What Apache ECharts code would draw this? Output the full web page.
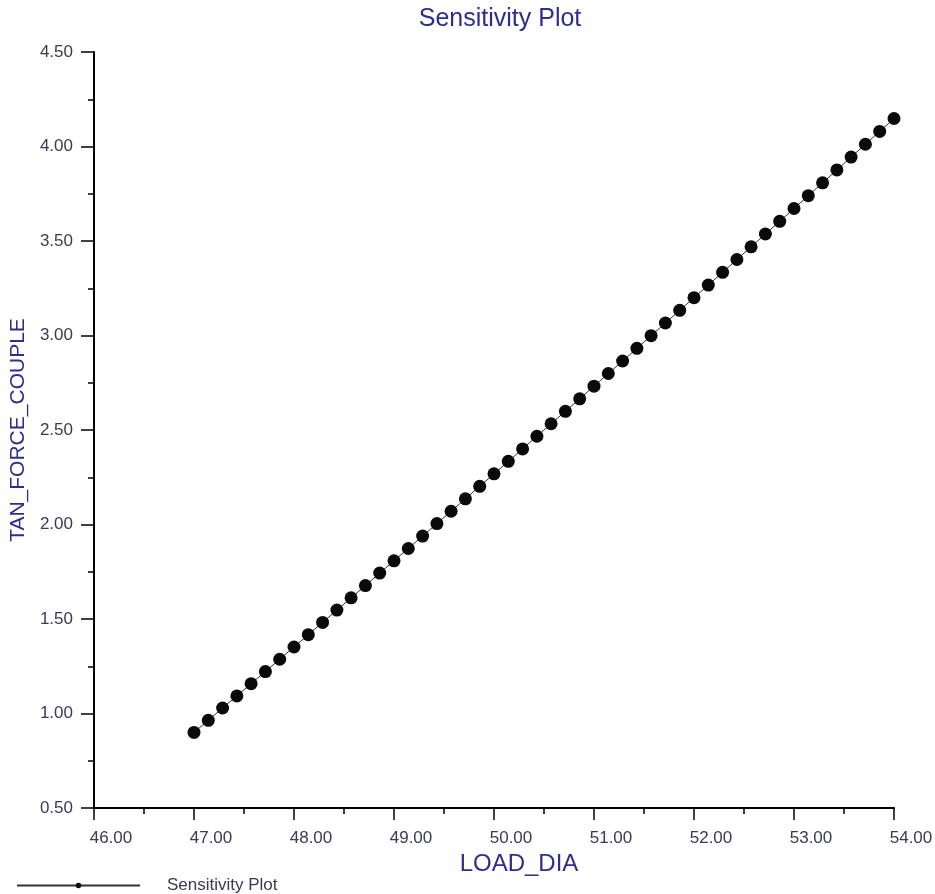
<!DOCTYPE html>
<html>
<head>
<meta charset="utf-8">
<title>Sensitivity Plot</title>
<script src="https://cdn.jsdelivr.net/npm/echarts@6/dist/echarts.min.js"></script>
<style>
  html, body { margin: 0; padding: 0; background: #fff; }
  #chart { width: 935px; height: 894px; }
</style>
</head>
<body>
<div id="chart"></div>
<script type="text/javascript">
// values
var loadDia = [
  47.000, 47.143, 47.286, 47.429, 47.571, 47.714, 47.857, 48.000, 48.143, 48.286,
  48.429, 48.571, 48.714, 48.857, 49.000, 49.143, 49.286, 49.429, 49.571, 49.714,
  49.857, 50.000, 50.143, 50.286, 50.429, 50.571, 50.714, 50.857, 51.000, 51.143,
  51.286, 51.429, 51.571, 51.714, 51.857, 52.000, 52.143, 52.286, 52.429, 52.571,
  52.714, 52.857, 53.000, 53.143, 53.286, 53.429, 53.571, 53.714, 53.857, 54.000
];
var tanForceCouple = [
  0.900, 0.964, 1.029, 1.093, 1.158, 1.222, 1.287, 1.352, 1.417, 1.482,
  1.547, 1.612, 1.677, 1.743, 1.808, 1.873, 1.939, 2.005, 2.070, 2.136,
  2.202, 2.268, 2.334, 2.400, 2.467, 2.533, 2.599, 2.665, 2.732, 2.799,
  2.865, 2.932, 2.999, 3.066, 3.133, 3.200, 3.267, 3.334, 3.402, 3.469,
  3.537, 3.604, 3.672, 3.740, 3.808, 3.876, 3.944, 4.012, 4.080, 4.148
];
var seriesName = 'Sensitivity Plot';

var navy = '#2e2e8e';
var labelGrey = '#3a3a55';
var font = "'Liberation Sans', Arial, sans-serif";

var points = [];
for (var i = 0; i < loadDia.length; i++) {
    points.push([loadDia[i], tanForceCouple[i]]);
}

var option = {
    backgroundColor: '#fff',
    animation: false,
    title: {
        text: 'Sensitivity Plot',
        left: 495,
        textAlign: 'center',
        top: 2,
        textStyle: { color: navy, fontSize: 25, fontWeight: 'normal', fontFamily: font }
    },
    legend: {
        left: 16,
        top: 877,
        padding: 0,
        itemWidth: 123,
        itemHeight: 7,
        data: [seriesName],
        textStyle: { color: labelGrey, fontSize: 17, fontFamily: font, padding: [0, 0, 0, 22] }
    },
    grid: { left: 94, right: 41, top: 52, bottom: 86, outerBoundsMode: 'none' },
    xAxis: {
        type: 'value',
        name: 'LOAD_DIA',
        nameLocation: 'middle',
        nameGap: 43,
        nameTextStyle: { color: navy, fontSize: 24, fontFamily: font, padding: [0, 0, 0, 50] },
        min: 46, max: 54, interval: 1,
        splitLine: { show: false },
        axisLine: { lineStyle: { color: '#000', width: 2 } },
        axisTick: { length: 12, lineStyle: { color: '#000', width: 1.5 } },
        minorTick: { show: true, splitNumber: 2, length: 6, lineStyle: { color: '#000', width: 1.5 } },
        axisLabel: {
            margin: 22, color: labelGrey, fontSize: 17, fontFamily: font,
            align: 'center', padding: [0, 0, 0, 34],
            formatter: function (v) { return v.toFixed(2); }
        }
    },
    yAxis: {
        type: 'value',
        name: 'TAN_FORCE_COUPLE',
        nameLocation: 'middle',
        nameGap: 59,
        nameTextStyle: { color: navy, fontSize: 21, fontFamily: font },
        min: 0.5, max: 4.5, interval: 0.5,
        splitLine: { show: false },
        axisLine: { show: true, lineStyle: { color: '#000', width: 2 } },
        axisTick: { show: true, length: 13, lineStyle: { color: '#000', width: 1.5 } },
        minorTick: { show: true, splitNumber: 2, length: 6, lineStyle: { color: '#000', width: 1.5 } },
        axisLabel: {
            margin: 21, color: labelGrey, fontSize: 17, fontFamily: font,
            padding: [0, 0, 8, 0],
            formatter: function (v) { return v.toFixed(2); }
        }
    },
    series: [
        {
            name: seriesName,
            type: 'line',
            data: points,
            symbol: 'circle',
            symbolSize: 13,
            itemStyle: { color: '#0a0a0a' },
            lineStyle: { color: '#333', width: 1 }
        }
    ]
};

var chart = echarts.init(document.getElementById('chart'));
chart.setOption(option);
</script>
</body>
</html>
